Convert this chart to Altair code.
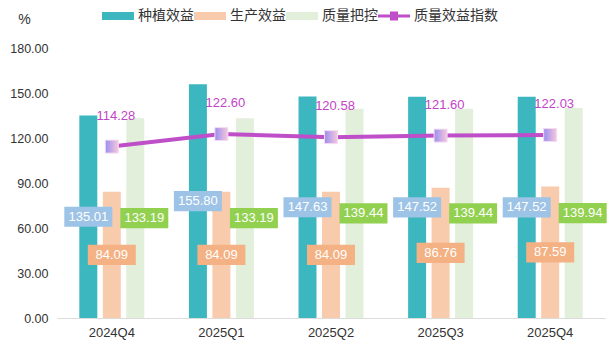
import altair as alt
import pandas as pd

quarters = ["2024Q4", "2025Q1", "2025Q2", "2025Q3", "2025Q4"]
series_names = ["种植效益", "生产效益", "质量把控", "质量效益指数"]
planting = [135.01, 155.80, 147.63, 147.52, 147.52]
production = [84.09, 84.09, 84.09, 86.76, 87.59]
quality = [133.19, 133.19, 139.44, 139.44, 139.94]
quality_index = [114.28, 122.60, 120.58, 121.60, 122.03]
y_ticks = [0, 30, 60, 90, 120, 150, 180]

bar_colors = ["#3db7bf", "#f8cbad", "#e2efda", "#bf4ec9"]
label_bg = ["#9dc3e6", "#f4b183", "#92d050"]

rows = []
for i, q in enumerate(quarters):
    for s, vals in zip(series_names[:3], [planting, production, quality]):
        rows.append({"quarter": q, "series": s, "value": vals[i]})
bars_df = pd.DataFrame(rows)
line_df = pd.DataFrame({"quarter": quarters, "series": series_names[3], "value": quality_index})

FONT = "Liberation Sans, Noto Sans CJK SC"

x_enc = alt.X(
    "quarter:N", sort=quarters,
    scale=alt.Scale(paddingInner=0, paddingOuter=0),
    axis=alt.Axis(title=None, labelAngle=0, ticks=False, domainColor="#dcdcdc", domainWidth=1,
                  labelFontSize=13, labelColor="#333333", labelPadding=8, labelFont=FONT),
)
xoff_enc = alt.XOffset(
    "series:N", sort=series_names[:3],
    scale=alt.Scale(domain=series_names[:3], paddingInner=0.234, paddingOuter=0.95),
)
y_scale = alt.Scale(domain=[0, 180])
y_axis = alt.Axis(
    title="%", titleAngle=0, titleX=-33, titleY=-29, titleAlign="center", titleBaseline="middle",
    titleFontSize=14, titleFontWeight="normal", titleColor="#333333", titleFont=FONT,
    values=y_ticks, format=".2f", grid=False, domain=False, ticks=False,
    labelPadding=9, labelFontSize=12.5, labelColor="#333333", labelFont=FONT,
)

rect_path = "M-1,-0.25H1V0.25H-1Z"
line_path = "M-1,-0.09H-0.25V-0.28H0.25V-0.09H1V0.09H0.25V0.28H-0.25V0.09H-1Z"
color_scale = alt.Scale(domain=series_names, range=bar_colors)
legend = alt.Legend(
    title=None, orient="none", legendX=45, legendY=-48, direction="horizontal",
    symbolSize=1024, labelFontSize=14, labelColor="#333333", labelFont=FONT,
    labelOffset=4, columnPadding=0, padding=0, symbolStrokeWidth=0, symbolOpacity=1,
    symbolType={"expr": f"datum.value === '{series_names[3]}' ? '{line_path}' : '{rect_path}'"},
)

bars = alt.Chart(bars_df).mark_bar().encode(
    x=x_enc, xOffset=xoff_enc,
    y=alt.Y("value:Q", scale=y_scale, axis=y_axis),
    color=alt.Color("series:N", scale=color_scale, legend=legend),
)

line = alt.Chart(line_df).mark_line(strokeWidth=4).encode(
    x=alt.X("quarter:N", sort=quarters),
    y=alt.Y("value:Q", scale=y_scale),
    color=alt.Color("series:N", scale=color_scale, legend=legend),
)

grad = alt.LinearGradient(
    gradient="linear", x1=0, x2=1, y1=0, y2=0,
    stops=[alt.GradientStop(color="#9b8ef0", offset=0), alt.GradientStop(color="#f6c8dc", offset=1)],
)
points = alt.Chart(line_df).mark_square(size=169, fill=grad, opacity=1, stroke="#f3dcf3", strokeWidth=1).encode(
    x=alt.X("quarter:N", sort=quarters),
    y=alt.Y("value:Q", scale=y_scale),
)
line_labels = alt.Chart(line_df).mark_text(
    dy=-31, dx=4, fontSize=13, color="#c244c8", font=FONT
).encode(
    x=alt.X("quarter:N", sort=quarters),
    y=alt.Y("value:Q", scale=y_scale),
    text=alt.Text("value:Q", format=".2f"),
)

# label boxes: 48 x 20 px (size 2304 -> half-width 24 px); green ones shifted right by 9 px
box_paths = [
    "M-1,-0.42H1V0.42H-1Z",
    "M-1,-0.42H1V0.42H-1Z",
    "M-0.625,-0.42H1.375V0.42H-0.625Z",
]
dxs = [0, 0, 9]
box_layers = []
for s, bg, dx, bp in zip(series_names[:3], label_bg, dxs, box_paths):
    base = alt.Chart(bars_df).transform_filter(alt.datum.series == s).transform_calculate(mid="datum.value / 2")
    box = base.mark_point(shape=bp, size=2304, filled=True, fill=bg,
                          opacity=1, strokeWidth=0).encode(
        x=alt.X("quarter:N", sort=quarters), xOffset=xoff_enc,
        y=alt.Y("mid:Q", scale=y_scale),
    )
    txt = base.mark_text(fontSize=13, color="white", dx=dx, font=FONT).encode(
        x=alt.X("quarter:N", sort=quarters), xOffset=xoff_enc,
        y=alt.Y("mid:Q", scale=y_scale),
        text=alt.Text("value:Q", format=".2f"),
    )
    box_layers += [box, txt]

chart = alt.layer(bars, line, points, line_labels, *box_layers).properties(
    width=548, height=270,
    autosize=alt.AutoSizeParams(type="none"),
    padding={"left": 57, "top": 48, "right": 11, "bottom": 29},
).configure(font=FONT, background="white", view=alt.ViewConfig(stroke=None))

chart.save("out.html", embed_options={"renderer": "svg", "actions": False})
